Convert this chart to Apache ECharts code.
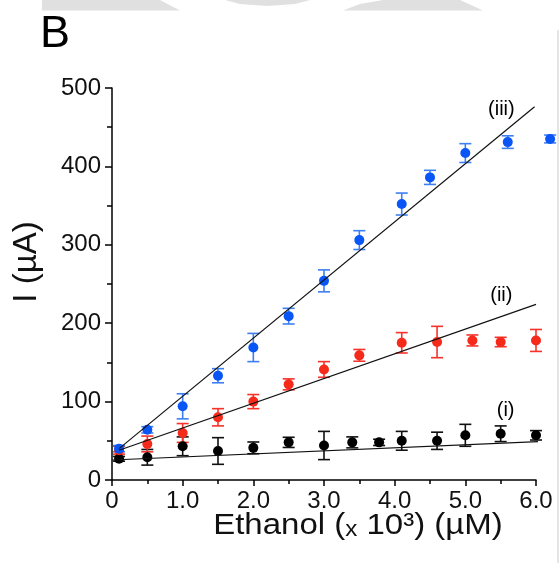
<!DOCTYPE html>
<html><head><meta charset="utf-8">
<script src="https://cdn.jsdelivr.net/npm/echarts@6/dist/echarts.min.js"></script>
<style>html,body{margin:0;padding:0;background:#fff}#c{width:560px;height:563px}</style>
</head><body><div id="c"></div>
<script>
const xTicks = [0, 1, 2, 3, 4, 5, 6];
const yTicks = [0, 100, 200, 300, 400, 500];

const blueX = [0.1, 0.5, 1.0, 1.5, 2.0, 2.5, 3.0, 3.5, 4.1, 4.5, 5.0, 5.6, 6.2];
const blueY = [40, 64, 94, 133, 169, 209, 254, 306, 352, 386, 417, 431, 435];
const blueErr = [4, 4, 16, 9, 18, 10, 14, 12, 14, 9, 12, 8, 5];

const redX = [0.1, 0.5, 1.0, 1.5, 2.0, 2.5, 3.0, 3.5, 4.1, 4.6, 5.1, 5.5, 6.0];
const redY = [38, 46, 60, 80, 100, 122, 141, 159, 175, 176, 178, 176, 178];
const redErr = [5, 10, 12, 11, 9, 7, 10, 7.5, 13, 20, 7, 6, 14];

const blackX = [0.1, 0.5, 1.0, 1.5, 2.0, 2.5, 3.0, 3.4, 3.78, 4.1, 4.6, 5.0, 5.5, 6.0];
const blackY = [27, 29, 43, 37, 41, 48, 44, 48, 48, 50, 50, 57, 59, 57];
const blackErr = [3, 10, 12, 17, 7.5, 6.5, 18, 7, 4, 12, 11, 14, 10, 6];

const fit3X = [0.1, 5.98], fit3Y = [40, 476];
const fit2X = [0.1, 6.0], fit2Y = [38, 224];
const fit1X = [0.0, 6.09], fit1Y = [25.5, 49.3];

const curveLabels = ['(iii)', '(ii)', '(i)'];
const labelX = [5.51, 5.51, 5.57];
const labelY = [473, 235, 89];

const FONT = '"Liberation Sans", Arial, sans-serif';
const chart = echarts.init(document.getElementById('c'), null, {renderer: 'canvas'});

function zip(xs, ys) { return xs.map((x, i) => [x, ys[i]]); }
function errData(xs, ys, es) { return xs.map((x, i) => [x, ys[i] - es[i], ys[i] + es[i]]); }
function errSeries(xs, ys, es, color) {
  return {
    type: 'custom', clip: false, z: 2,
    data: errData(xs, ys, es),
    renderItem: function (params, api) {
      const x = api.value(0);
      const lo = api.coord([x, api.value(1)]);
      const hi = api.coord([x, api.value(2)]);
      const w = 6;
      const st = {stroke: color, lineWidth: 1.6};
      return {type: 'group', children: [
        {type: 'line', shape: {x1: lo[0], y1: lo[1], x2: hi[0], y2: hi[1]}, style: st},
        {type: 'line', shape: {x1: lo[0] - w, y1: lo[1], x2: lo[0] + w, y2: lo[1]}, style: st},
        {type: 'line', shape: {x1: hi[0] - w, y1: hi[1], x2: hi[0] + w, y2: hi[1]}, style: st}
      ]};
    }
  };
}
function dots(xs, ys, color) {
  return {type: 'scatter', clip: false, z: 3, symbolSize: 10, itemStyle: {color: color, opacity: 1}, data: zip(xs, ys)};
}
function fit(xs, ys) {
  return {type: 'line', clip: false, z: 4, symbol: 'none', lineStyle: {color: '#111', width: 1.2}, data: zip(xs, ys)};
}

const option = {
  animation: false,
  backgroundColor: '#fff',
  grid: {left: 112, right: 24, top: 88, bottom: 83, containLabel: false},
  xAxis: {
    type: 'value', min: xTicks[0], max: xTicks[xTicks.length - 1], interval: 1,
    axisLine: {lineStyle: {color: '#000', width: 1.5}},
    axisTick: {inside: false, length: 6, lineStyle: {color: '#000', width: 1.5}},
    minorTick: {show: true, splitNumber: 2, length: 4, lineStyle: {color: '#000', width: 1.5}},
    splitLine: {show: false},
    axisLabel: {margin: 9, fontSize: 24, color: '#111', fontFamily: FONT,
      formatter: v => v === 0 ? '0' : v.toFixed(1)}
  },
  yAxis: {
    type: 'value', min: yTicks[0], max: yTicks[yTicks.length - 1], interval: 100,
    axisLine: {show: true, lineStyle: {color: '#000', width: 1.5}},
    axisTick: {show: true, inside: false, length: 7, lineStyle: {color: '#000', width: 1.5}},
    minorTick: {show: true, splitNumber: 2, length: 5, lineStyle: {color: '#000', width: 1.5}},
    splitLine: {show: false},
    axisLabel: {margin: 11, fontSize: 24, color: '#111', fontFamily: FONT}
  },
  series: [
    errSeries(blackX, blackY, blackErr, '#111'),
    errSeries(redX, redY, redErr, '#f5332a'),
    errSeries(blueX, blueY, blueErr, '#3d7ff2'),
    dots(blackX, blackY, '#000'),
    dots(redX, redY, '#f52a1a'),
    dots(blueX, blueY, '#0a55f5'),
    fit(fit3X, fit3Y),
    fit(fit2X, fit2Y),
    fit(fit1X, fit1Y),
    {
      type: 'scatter', clip: false, z: 5, symbolSize: 1, itemStyle: {color: 'rgba(0,0,0,0)'},
      data: labelX.map((x, i) => ({value: [x, labelY[i]], name: curveLabels[i]})),
      label: {show: true, position: 'inside', formatter: p => p.name, fontSize: 20, color: '#000',
        textBorderWidth: 0, opacity: 1, fontFamily: FONT}
    }
  ],
  graphic: [
    {type: 'polygon', z: -1, shape: {points: [[42,0],[160,0],[180,10.5],[42,10.5]]}, style: {fill: '#e0e0e0'}},
    {type: 'polygon', z: -1, shape: {points: [[225,0],[240,4],[267,6],[295,4],[310,0]]}, style: {fill: '#e0e0e0'}},
    {type: 'polygon', z: -1, shape: {points: [[383,0],[460,0],[483,10.5],[343,10.5],[360,4]]}, style: {fill: '#e0e0e0'}},
    {type: 'line', z: -1, shape: {x1: 558, y1: 30, x2: 558, y2: 563}, style: {stroke: '#dcdcdc', lineWidth: 1.5}},
    {type: 'text', left: 40, top: 12, style: {text: 'B', font: '45px ' + FONT, fill: '#000'}},
    {type: 'text', x: 27, y: 262, rotation: Math.PI / 2,
      style: {text: 'I (µA)', font: '33px ' + FONT, fill: '#111', align: 'center', verticalAlign: 'middle'}},
    {type: 'text', x: 358, y: 526, scaleX: 1.1,
      style: {text: 'Ethanol ({s|x} 10³) (µM)', font: '30px ' + FONT, fill: '#111', align: 'center', verticalAlign: 'middle',
        rich: {s: {fontSize: 22, fontFamily: FONT, fill: '#111', verticalAlign: 'bottom'}}}}
  ]
};
chart.setOption(option);
</script></body></html>
